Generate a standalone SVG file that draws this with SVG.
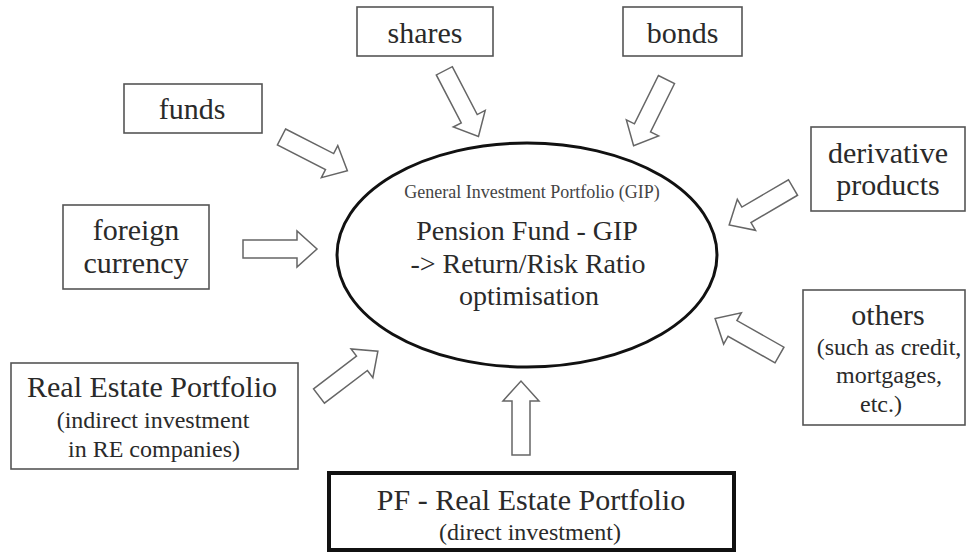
<svg xmlns="http://www.w3.org/2000/svg" xmlns:xlink="http://www.w3.org/1999/xlink" width="966" height="553" viewBox="0 0 966 553">
  <style>
    .box { fill: #ffffff; stroke: #555555; stroke-width: 1.6; }
    .box-main { fill: #ffffff; stroke: #111111; stroke-width: 4; }
    .hub { fill: #ffffff; stroke: #111111; stroke-width: 3; }
    .arrow { fill: #ffffff; stroke: #666666; stroke-width: 1.5; stroke-linejoin: miter; }
    .t { font-family: "Liberation Serif", "DejaVu Serif", "Noto Serif", "Times New Roman", Times, serif; fill: #2a2a2a; text-anchor: middle; }
    .lg { font-size: 30px; }
    .md { font-size: 28px; }
    .sm { font-size: 24px; }
    .xs { font-size: 18px; fill: #444444; }
  </style>
  <defs>
    <!-- hollow block arrow pointing along +x, tail at origin -->
    <path id="blockArrow" d="M0,-9 H54 V-18 L74,0 L54,18 V9 H0 Z"/>
  </defs>

  <!-- connectors -->
  <g id="connectors" class="arrow">
    <use xlink:href="#blockArrow" transform="translate(281.5,137) rotate(27.1)"/>
    <use xlink:href="#blockArrow" transform="translate(444.3,70.8) rotate(62.5)"/>
    <use xlink:href="#blockArrow" transform="translate(666.5,79.5) rotate(116.4)"/>
    <use xlink:href="#blockArrow" transform="translate(793,187.5) rotate(149.6)"/>
    <use xlink:href="#blockArrow" transform="translate(243,249) rotate(0)"/>
    <use xlink:href="#blockArrow" transform="translate(779.5,355) rotate(209.5)"/>
    <use xlink:href="#blockArrow" transform="translate(319,396) rotate(-37.3)"/>
    <use xlink:href="#blockArrow" transform="translate(521,455) rotate(-90)"/>
  </g>

  <g id="gip" class="t" font-family="Liberation Serif, serif">
    <ellipse class="hub" cx="527" cy="255" rx="190" ry="112"/>
    <text class="t xs" x="532" y="198">General Investment Portfolio (GIP)</text>
    <text class="t md" x="527" y="240">Pension Fund - GIP</text>
    <text class="t md" x="528" y="273">-&gt; Return/Risk Ratio</text>
    <text class="t md" x="529" y="305">optimisation</text>
  </g>

  <g id="shares">
    <rect class="box" x="357" y="7" width="136" height="49"/>
    <text class="t lg" x="425" y="43">shares</text>
  </g>

  <g id="bonds">
    <rect class="box" x="623" y="7" width="119" height="49"/>
    <text class="t lg" x="682.5" y="43">bonds</text>
  </g>

  <g id="funds">
    <rect class="box" x="124" y="84" width="138" height="49"/>
    <text class="t lg" x="192" y="119">funds</text>
  </g>

  <g id="foreign-currency">
    <rect class="box" x="63" y="205" width="146" height="84"/>
    <text class="t lg" x="136" y="240">foreign</text>
    <text class="t lg" x="136" y="273">currency</text>
  </g>

  <g id="derivative-products">
    <rect class="box" x="811" y="127" width="154" height="84"/>
    <text class="t lg" x="888" y="163">derivative</text>
    <text class="t lg" x="888" y="195">products</text>
  </g>

  <g id="others">
    <rect class="box" x="803" y="290" width="162" height="135"/>
    <text class="t lg" x="888" y="325">others</text>
    <text class="t sm" x="889" y="355">(such as credit,</text>
    <text class="t sm" x="889" y="383">mortgages,</text>
    <text class="t sm" x="881" y="412">etc.)</text>
  </g>

  <g id="real-estate-indirect">
    <rect class="box" x="11" y="363" width="287" height="106"/>
    <text class="t lg" x="152" y="397">Real Estate Portfolio</text>
    <text class="t sm" x="153" y="428">(indirect investment</text>
    <text class="t sm" x="154" y="457">in RE companies)</text>
  </g>

  <g id="real-estate-direct">
    <rect class="box-main" x="329" y="473" width="405" height="77"/>
    <text class="t lg" x="531" y="510">PF - Real Estate Portfolio</text>
    <text class="t sm" x="530" y="540">(direct investment)</text>
  </g>
</svg>
